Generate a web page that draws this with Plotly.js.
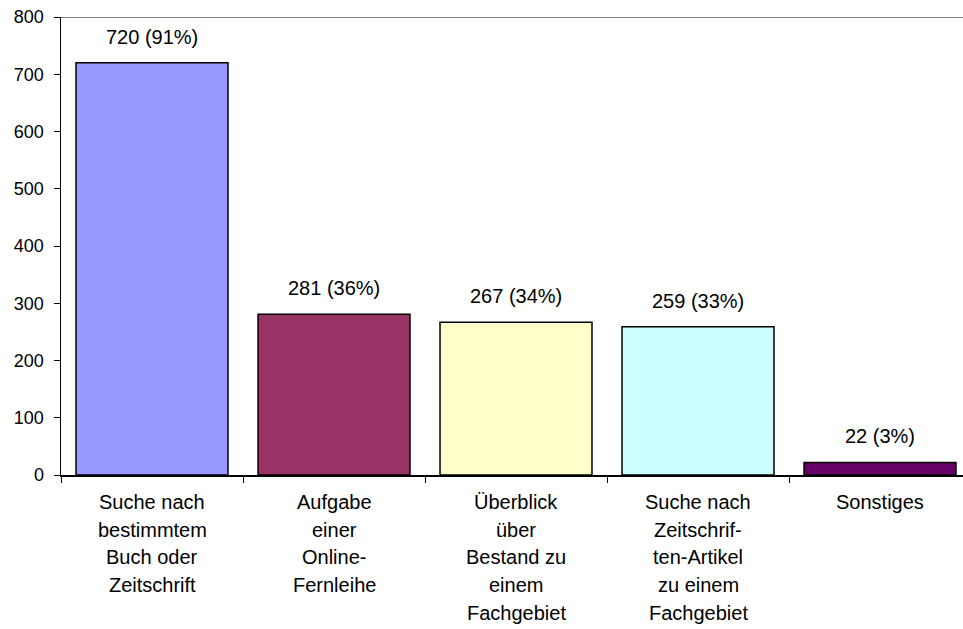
<!DOCTYPE html>
<html>
<head>
<meta charset="utf-8">
<script src="https://cdn.plot.ly/plotly-3.0.1.min.js"></script>
<style>html,body{margin:0;padding:0;background:#fff;}#chart{width:963px;height:629px;}</style>
</head>
<body>
<div id="chart"></div>
<script>
const categories = ["c1", "c2", "c3", "c4", "c5"];
const categoryLines = [
  ["Suche nach", "bestimmtem", "Buch oder", "Zeitschrift"],
  ["Aufgabe", "einer", "Online-", "Fernleihe"],
  ["Überblick", "über", "Bestand zu", "einem", "Fachgebiet"],
  ["Suche nach", "Zeitschrif-", "ten-Artikel", "zu einem", "Fachgebiet"],
  ["Sonstiges"]
];
const counts = [720, 281, 267, 259, 22];
const percents = [91, 36, 34, 33, 3];
const colors = ["#9999FF", "#993366", "#FFFFCC", "#CCFFFF", "#660066"];
const yTicks = [0, 100, 200, 300, 400, 500, 600, 700, 800];

const FONT = "Liberation Sans, Arial, sans-serif";

const trace = {
  type: "bar",
  x: categories,
  y: counts,
  marker: { color: colors, line: { color: "#000000", width: 1.5 } },
  hoverinfo: "skip"
};

const annotations = [];
counts.forEach((v, i) => {
  annotations.push({
    x: categories[i], y: v, xref: "x", yref: "y",
    text: v + " (" + percents[i] + "%)",
    showarrow: false, yanchor: "bottom", yshift: 13,
    font: { family: FONT, size: 20, color: "#000" }
  });
});
categoryLines.forEach((lines, i) => {
  lines.forEach((ln, j) => {
    annotations.push({
      x: categories[i], y: 0, xref: "x", yref: "y",
      text: ln, showarrow: false, yanchor: "middle",
      yshift: -(27 + j * 27.7),
      font: { family: FONT, size: 20, color: "#000" }
    });
  });
});

const layout = {
  width: 963, height: 629,
  margin: { l: 61, r: 0, t: 17, b: 154, pad: 0 },
  paper_bgcolor: "#fff", plot_bgcolor: "#fff",
  font: { family: FONT, size: 18, color: "#000" },
  showlegend: false,
  bargap: 0.165,
  xaxis: {
    type: "category",
    range: [-0.5, 4.456],
    showticklabels: false,
    showline: true, linecolor: "#000", linewidth: 1.5,
    ticks: "outside", tickson: "boundaries", ticklen: 6, tickcolor: "#000", tickwidth: 1,
    showgrid: false, zeroline: false, fixedrange: true
  },
  yaxis: {
    range: [0, 800],
    tickvals: yTicks,
    ticktext: yTicks.map(String),
    showline: true, linecolor: "#000", linewidth: 1.5,
    ticks: "outside", ticklen: 6, tickcolor: "#000", tickwidth: 1,
    ticklabelstandoff: 6,
    showgrid: false, zeroline: false, fixedrange: true,
    tickfont: { family: FONT, size: 18, color: "#000" }
  },
  shapes: [{
    type: "line", xref: "paper", yref: "y", x0: 0, x1: 1, y0: 800, y1: 800,
    line: { color: "#808080", width: 2 }
  }],
  annotations: annotations
};

Plotly.newPlot("chart", [trace], layout, { displayModeBar: false, staticPlot: true });
</script>
</body>
</html>
